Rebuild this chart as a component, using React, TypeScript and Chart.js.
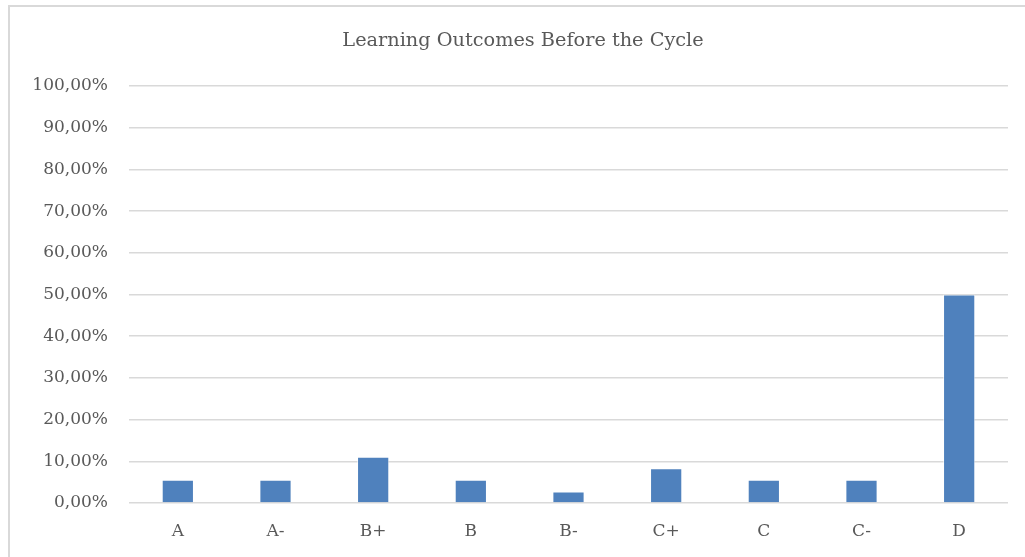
import React, { useEffect, useRef } from "react";
import { Chart, registerables } from "chart.js";

Chart.register(...registerables);

const categories = ["A", "A-", "B+", "B", "B-", "C+", "C", "C-", "D"];
const shares = [5.56, 5.56, 11.11, 5.56, 2.78, 8.33, 5.56, 5.56, 50.0];
const titleText = "Learning Outcomes Before the Cycle";
const yMax = 100;
const yStep = 10;

const FONT = "'DejaVu Serif', serif";

const titlePlugin = {
  id: "centeredTitle",
  afterDraw(chart: any) {
    const ctx = chart.ctx;
    ctx.save();
    ctx.font = `normal 19.3px ${FONT}`;
    ctx.fillStyle = "#595959";
    ctx.textAlign = "center";
    ctx.textBaseline = "middle";
    ctx.fillText(titleText, 523, 41);
    ctx.restore();
  },
};

export default function App() {
  const ref = useRef<HTMLCanvasElement | null>(null);

  useEffect(() => {
    if (!ref.current) return;
    const chart = new Chart(ref.current, {
      type: "bar",
      data: {
        labels: categories,
        datasets: [
          {
            data: shares,
            backgroundColor: "#4F81BD",
            borderColor: "rgba(255,255,255,0.6)",
            borderWidth: 1,
            barPercentage: 1,
            categoryPercentage: 0.33,
          },
        ],
      },
      plugins: [titlePlugin],
      options: {
        responsive: false,
        animation: false,
        layout: { padding: { left: 10, right: 17, top: 86, bottom: 0 } },
        plugins: {
          legend: { display: false },
          tooltip: { enabled: false },
          title: { display: false },
        },
        scales: {
          x: {
            grid: { display: false, drawTicks: false },
            border: { display: false },
            ticks: {
              color: "#595959",
              font: { family: FONT, size: 17 },
              padding: 18,
              maxRotation: 0,
            },
            afterFit: (s: any) => {
              s.height = 54;
            },
          },
          y: {
            min: 0,
            max: yMax,
            grid: { color: "#d9d9d9", lineWidth: 1.5, drawTicks: false },
            border: { display: false },
            ticks: {
              stepSize: yStep,
              color: "#595959",
              font: { family: FONT, size: 17 },
              padding: 21,
              callback: (v: any) => Number(v).toFixed(2).replace(".", ",") + "%",
            },
            afterFit: (s: any) => {
              s.width = 119;
            },
          },
        },
      },
    });
    return () => chart.destroy();
  }, []);

  return (
    <div style={{ position: "fixed", left: 0, top: 0, width: 1025, height: 557, background: "#fff", overflow: "hidden" }}>
      <div
        style={{
          position: "absolute",
          left: 8,
          top: 5,
          width: 1040,
          height: 600,
          border: "2px solid #d9d9d9",
          boxSizing: "border-box",
        }}
      />
      <canvas ref={ref} width={1025} height={557} style={{ position: "absolute", left: 0, top: 0 }} />
    </div>
  );
}
